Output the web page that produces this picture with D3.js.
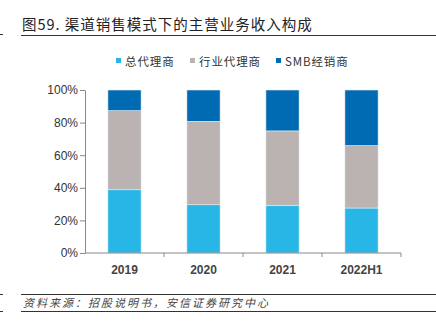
<!DOCTYPE html>
<html>
<head>
<meta charset="utf-8">
<script src="https://cdn.jsdelivr.net/npm/d3@7"></script>
<style>
  body { margin: 0; background: #fff; }
  svg { display: block; font-family: "Noto Sans CJK SC", "Liberation Sans", sans-serif; }
</style>
</head>
<body>
<svg width="436" height="332"></svg>
<script>
// data (percent of main revenue)
const years = ["2019", "2020", "2021", "2022H1"];
const zongDaili = [38.8, 29.6, 29.0, 27.6];     // 总代理商
const hangyeDaili = [48.5, 51.2, 45.9, 38.3];   // 行业代理商
const smbJingxiao = [12.7, 19.2, 25.1, 34.1];   // SMB经销商
const seriesNames = ["总代理商", "行业代理商", "SMB经销商"];
const seriesColors = ["#27b6e6", "#bab3b1", "#006bb2"];
const yTicks = [0, 20, 40, 60, 80, 100];

const svg = d3.select("svg");
const margin = {top: 90, right: 35, bottom: 79, left: 85};
const width = 436 - margin.left - margin.right;
const height = 332 - margin.top - margin.bottom;

// title + rules
svg.append("text")
  .attr("x", 22).attr("y", 30)
  .attr("font-size", 14.5).attr("fill", "#222")
  .attr("letter-spacing", 1.0)
  .text("图59. 渠道销售模式下的主营业务收入构成");
svg.append("line").attr("x1", 21).attr("x2", 436).attr("y1", 35.5).attr("y2", 35.5)
  .attr("stroke", "#333").attr("stroke-width", 1.2);
svg.append("line").attr("x1", 0).attr("x2", 3).attr("y1", 34.5).attr("y2", 34.5)
  .attr("stroke", "#333");

// legend
const legendX = [116, 190, 276];
seriesNames.forEach((name, i) => {
  svg.append("rect").attr("x", legendX[i]).attr("y", 58).attr("width", 5).attr("height", 5)
    .attr("fill", seriesColors[i]);
  svg.append("text").attr("x", legendX[i] + 9).attr("y", 66)
    .attr("font-size", 11.5).attr("fill", "#333").attr("letter-spacing", 0.9)
    .text(name);
});

const g = svg.append("g").attr("transform", `translate(${margin.left},${margin.top})`);

const x = d3.scaleBand().domain(years).range([0, width]).paddingInner(0.58).paddingOuter(0.29);
const xTicks = d3.scaleBand().domain(years).range([0, width]);
const y = d3.scaleLinear().domain([0, 100]).range([height, 0]);

const rows = years.map((yr, i) => ({year: yr, a: zongDaili[i], b: hangyeDaili[i], c: smbJingxiao[i]}));
const stack = d3.stack().keys(["a", "b", "c"])(rows);

g.selectAll(".layer")
  .data(stack)
  .enter().append("g")
  .attr("fill", (d, i) => seriesColors[i])
  .selectAll("rect")
  .data(d => d)
  .enter().append("rect")
  .attr("x", d => x(d.data.year))
  .attr("width", x.bandwidth())
  .attr("y", d => y(d[1]))
  .attr("height", d => y(d[0]) - y(d[1]))
  .attr("stroke", "#e8ecef").attr("stroke-width", 0.6);

// y axis
const yAxis = g.append("g")
  .call(d3.axisLeft(y).tickValues(yTicks).tickFormat(d => d + "%").tickSize(5).tickSizeOuter(0));
yAxis.select(".domain").attr("stroke", "#888");
yAxis.selectAll(".tick line").attr("stroke", "#888");
yAxis.selectAll("text").attr("font-family", "Liberation Sans, Arial, sans-serif")
  .attr("font-size", 12).attr("fill", "#333").attr("x", -7);

// x axis with ticks at category boundaries
const xAxis = g.append("g").attr("transform", `translate(0,${height})`);
xAxis.append("line").attr("x1", 0).attr("x2", width).attr("stroke", "#888");
xAxis.selectAll(".bt")
  .data(years.slice(1).concat(["end"]))
  .enter().append("line")
  .attr("x1", (d, i) => xTicks.step() * (i + 1)).attr("x2", (d, i) => xTicks.step() * (i + 1))
  .attr("y1", 0).attr("y2", 4).attr("stroke", "#888");
xAxis.selectAll(".lbl")
  .data(years)
  .enter().append("text")
  .attr("x", d => xTicks(d) + xTicks.bandwidth() / 2)
  .attr("y", 21)
  .attr("text-anchor", "middle")
  .attr("font-family", "Liberation Sans, Arial, sans-serif")
  .attr("font-size", 12).attr("font-weight", "bold").attr("fill", "#444")
  .text(d => d);

// source footer
svg.append("line").attr("x1", 21).attr("x2", 436).attr("y1", 294.5).attr("y2", 294.5)
  .attr("stroke", "#333").attr("stroke-width", 1.2);
svg.append("line").attr("x1", 0).attr("x2", 3).attr("y1", 294.5).attr("y2", 294.5).attr("stroke", "#333");
svg.append("text").attr("x", 23).attr("y", 307)
  .attr("font-size", 11).attr("fill", "#444").attr("font-style", "italic")
  .attr("letter-spacing", 2.0)
  .text("资料来源：招股说明书，安信证券研究中心");
svg.append("line").attr("x1", 21).attr("x2", 436).attr("y1", 311.5).attr("y2", 311.5)
  .attr("stroke", "#333").attr("stroke-width", 1.2);
svg.append("line").attr("x1", 0).attr("x2", 3).attr("y1", 311.5).attr("y2", 311.5).attr("stroke", "#333");
</script>
</body>
</html>
